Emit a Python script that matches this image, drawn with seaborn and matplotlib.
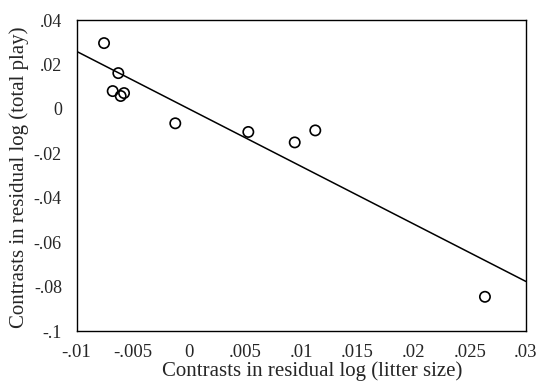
import numpy as np
import pandas as pd
import matplotlib
matplotlib.use("Agg")
import matplotlib.pyplot as plt
import seaborn as sns

# Contrasts
litter_contrast = [-0.00755, -0.00628, -0.00678, -0.00607, -0.00577,
                   -0.00121, 0.00529, 0.00942, 0.01125, 0.02635]
play_contrast = [0.0296, 0.0161, 0.0080, 0.0058, 0.0071,
                 -0.0065, -0.0104, -0.0151, -0.0097, -0.0846]

x_ticks = [-0.01, -0.005, 0, 0.005, 0.01, 0.015, 0.02, 0.025, 0.03]
x_ticklabels = ['-.01', '-.005', '0', '.005', '.01', '.015', '.02', '.025', '.03']
y_ticks = [-0.1, -0.08, -0.06, -0.04, -0.02, 0, 0.02, 0.04]
y_ticklabels = ['-.1', '-.08', '-.06', '-.04', '-.02', '0', '.02', '.04']

df = pd.DataFrame({'litter': litter_contrast, 'play': play_contrast})

sns.set_style('white')
plt.rcParams['font.family'] = ['Liberation Serif', 'DejaVu Serif']

fig = plt.figure(figsize=(5.4, 3.81), dpi=100)
ax = fig.add_axes([0.1417, 0.1312, 0.9740 - 0.1417, 0.9475 - 0.1312])

# regression through the origin (independent contrasts)
x = df['litter'].to_numpy()
y = df['play'].to_numpy()
slope = (x * y).sum() / (x * x).sum()
xl = np.array([x_ticks[0], x_ticks[-1]])
ax.plot(xl, slope * xl, color='black', lw=1.1)

sns.scatterplot(data=df, x='litter', y='play', ax=ax, marker='o', s=55,
                facecolor='none', edgecolor='black', linewidth=1.2, zorder=3)

ax.set_xlim(x_ticks[0], x_ticks[-1])
ax.set_ylim(y_ticks[0], y_ticks[-1])
ax.set_xticks(x_ticks)
ax.set_xticklabels(x_ticklabels)
ax.set_yticks(y_ticks)
ax.set_yticklabels(y_ticklabels)
ax.tick_params(axis='x', length=0, pad=9, labelsize=13.5)
ax.tick_params(axis='y', length=0, pad=10.5, labelsize=13)

for sp in ax.spines.values():
    sp.set_visible(True)
    sp.set_color('black')
    sp.set_linewidth(1.0)

ax.set_xlabel('Contrasts in residual log (litter size)', fontsize=15)
ax.xaxis.set_label_coords(0.524, -0.097)
ax.set_ylabel('Contrasts in residual log (total play)', fontsize=15)
ax.yaxis.set_label_coords(-0.106, 0.495)

fig.savefig('out.png', dpi=100)
